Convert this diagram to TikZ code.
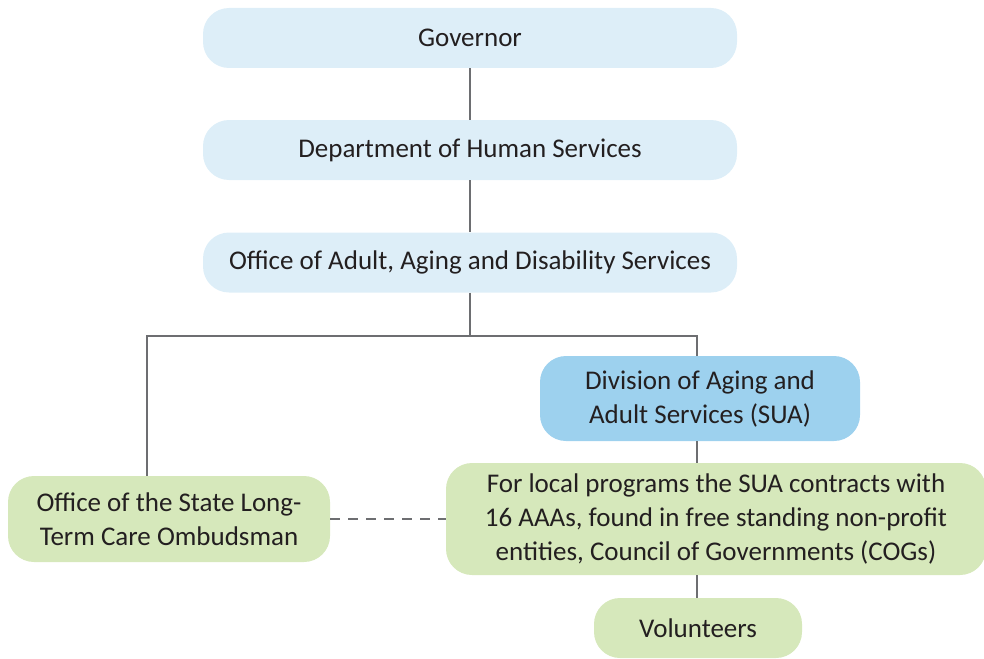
\documentclass[tikz,border=0pt]{standalone}
\usepackage{fontspec}
\setmainfont{Carlito}
\begin{document}
\begin{tikzpicture}[x=1pt,y=-1pt,
  box/.style={draw=none,rounded corners=26pt,align=center,inner sep=0pt,font=\fontsize{27}{34}\selectfont,text=textdark},
  topbox/.style={box,fill=lightblue},
  greenbox/.style={box,fill=lightgreen},
  conn/.style={draw=linegray,line width=2pt},
]
\definecolor{lightblue}{HTML}{DDEEF8}
\definecolor{lightgreen}{HTML}{D6E8BB}
\definecolor{midblue}{HTML}{9DD1EE}
\definecolor{linegray}{HTML}{6D6E71}
\definecolor{textdark}{HTML}{231F20}
\useasboundingbox (0,0) rectangle (984,658);
\node[topbox,minimum width=534pt,minimum height=60pt] (gov) at (470,38) {Governor};
\node[topbox,minimum width=534pt,minimum height=60pt] (dhs) at (470,150) {Department of Human Services};
\node[topbox,minimum width=534pt,minimum height=60pt] (oaads) at (470,262.5) {Office of Adult, Aging and Disability Services};
\node[box,fill=midblue,minimum width=320pt,minimum height=85pt] (div) at (700,398.5) {Division of Aging and\\Adult Services (SUA)};
\node[greenbox,minimum width=540pt,minimum height=112pt] (aaa) at (716,519) {For local programs the SUA contracts with\\16 AAAs, found in free standing non-profit\\entities, Council of Governments (COGs)};
\node[greenbox,minimum width=322pt,minimum height=86pt] (omb) at (169,519) {Office of the State Long-\\Term Care Ombudsman};
\node[greenbox,minimum width=208pt,minimum height=60pt] (vol) at (698,628) {Volunteers};
\coordinate (jl) at (147,336);
\coordinate (jr) at (697,336);
\coordinate (jm) at (470,336);
\draw[conn] (gov.south) -- (dhs.north);
\draw[conn] (dhs.south) -- (oaads.north);
\draw[conn] (oaads.south) -- (jm);
\draw[conn] (omb.north -| jl) -- (jl) -- (jr) -- (div.north -| jr);
\draw[conn] (div.south -| jr) -- (aaa.north -| jr);
\draw[conn] (aaa.south -| jr) -- (vol.north -| jr);
\draw[conn,dash pattern=on 10pt off 8pt] (omb.east) -- (aaa.west);
\end{tikzpicture}
\end{document}
